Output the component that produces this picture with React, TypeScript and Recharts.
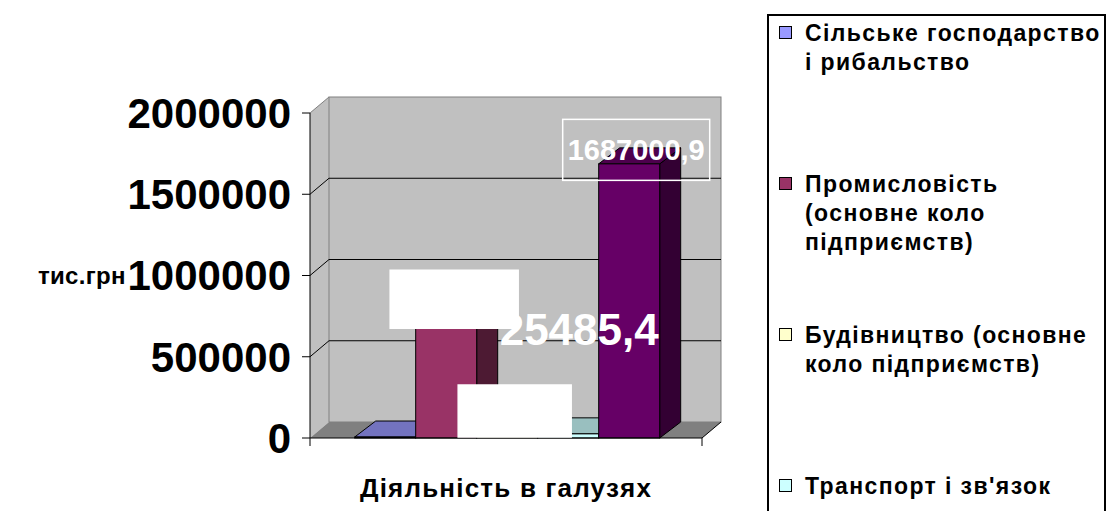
import React from "react";
import { Bar, BarChart, CartesianGrid, LabelList, Legend, ReferenceArea, XAxis, YAxis } from "recharts";

const categories = ["Діяльність в галузях"];
const seriesNames = [
  "Сільське господарство і рибальство",
  "Промисловість (основне коло підприємств)",
  "Будівництво (основне коло підприємств)",
  "Транспорт і зв'язок",
  "Торгівля",
];
const agriculture = [6000];
const industry = [700000];
const construction = [120000];
const transport = [25485.4];
const trade = [1687000.9];
const yTicks = [0, 500000, 1000000, 1500000, 2000000];
const legendLines = [
  ["Сільське господарство", "і рибальство"],
  ["Промисловість", "(основне коло", "підприємств)"],
  ["Будівництво (основне", "коло підприємств)"],
  ["Транспорт і зв'язок"],
];

const colors = ["#9999FF", "#993366", "#FFFFCC", "#CCFFFF", "#660066"];
const keys = ["s0", "s1", "s2", "s3", "s4"];
const seriesValues = [agriculture, industry, construction, transport, trade];

const data = categories.map((cat, i) => {
  const row: Record<string, string | number> = { cat };
  keys.forEach((k, j) => (row[k] = seriesValues[j][i]));
  return row;
});

const FONT = '"Liberation Sans", Arial, sans-serif';
const WALL_DX = 19;
const WALL_DY = -16;
const BAR_DX = 21;
const BAR_DY = -16;

function shade(hex: string, f: number) {
  const n = parseInt(hex.slice(1), 16);
  const r = Math.round(((n >> 16) & 255) * f);
  const g = Math.round(((n >> 8) & 255) * f);
  const b = Math.round((n & 255) * f);
  return `rgb(${r},${g},${b})`;
}

function Box3D(props: any) {
  const x = Number(props.x);
  const y = Number(props.y);
  const w = Number(props.width);
  const h = Number(props.height);
  const fill = props.fill as string;
  if (!isFinite(x) || !isFinite(y)) return null;
  const top = `${x},${y} ${x + BAR_DX},${y + BAR_DY} ${x + w + BAR_DX},${y + BAR_DY} ${x + w},${y}`;
  const side = `${x + w},${y} ${x + w + BAR_DX},${y + BAR_DY} ${x + w + BAR_DX},${y + h + BAR_DY} ${x + w},${y + h}`;
  return (
    <g>
      <polygon points={side} fill={shade(fill, 0.5)} stroke="#000" strokeWidth={1} />
      <polygon points={top} fill={shade(fill, 0.75)} stroke="#000" strokeWidth={1} />
      <rect x={x} y={y} width={w} height={Math.max(h, 0)} fill={fill} stroke="#000" strokeWidth={1} />
    </g>
  );
}

function Walls(props: any) {
  const { x, y, width: w, height: h } = props;
  const b = y + h;
  return (
    <g>
      <polygon
        points={`${x},${b} ${x},${y} ${x + WALL_DX},${y + WALL_DY} ${x + WALL_DX},${b + WALL_DY}`}
        fill="#c0c0c0"
      />
      <line x1={x} y1={y} x2={x + WALL_DX} y2={y + WALL_DY} stroke="#808080" />
      <rect x={x + WALL_DX} y={y + WALL_DY} width={w} height={h} fill="#c0c0c0" stroke="#808080" />
      <polygon
        points={`${x},${b} ${x + w},${b} ${x + w + WALL_DX},${b + WALL_DY} ${x + WALL_DX},${b + WALL_DY}`}
        fill="#808080"
      />
      <line x1={x + w} y1={b} x2={x + w + WALL_DX} y2={b + WALL_DY} stroke="#000" />
      <line x1={x} y1={b} x2={x} y2={b + 8} stroke="#000" />
      <line x1={x + w} y1={b} x2={x + w} y2={b + 8} stroke="#000" />
    </g>
  );
}

function GridLine(props: any) {
  const { x1, y1, x2, y2 } = props;
  const top = Number(props.y);
  const bottom = top + Number(props.height);
  if (Math.abs(y1 - top) < 1 || Math.abs(y1 - bottom) < 1) return <g />;
  return (
    <path
      d={`M${x1},${y1} L${x1 + WALL_DX},${y1 + WALL_DY} L${x2 + WALL_DX},${y2 + WALL_DY}`}
      stroke="#000"
      strokeWidth={1}
      fill="none"
    />
  );
}

// label looks per series (index matches series)
const labelStyles: any[] = [
  null,
  { kind: "fill", w: 128, h: 58, dx: 8, dy: -25, fontSize: 28 },
  { kind: "fill", w: 113, h: 52, dx: 7.5, dy: -7.5, fontSize: 28 },
  { kind: "text", dx: 11, dy: -105, fontSize: 44 },
  { kind: "stroke", w: 147, h: 61, dx: 7, dy: -14, fontSize: 29 },
];

function formatValue(v: number) {
  return String(v).replace(".", ",");
}

const makeLabel = (i: number) => (props: any) => {
  const st = labelStyles[i];
  if (!st) return null;
  const cx = Number(props.x) + Number(props.width) / 2 + st.dx;
  const cy = Number(props.y) + st.dy;
  return (
    <g>
      {st.kind !== "text" && (
        <rect
          x={cx - st.w / 2}
          y={cy - st.h / 2}
          width={st.w}
          height={st.h}
          fill={st.kind === "fill" ? "#fff" : "none"}
          stroke="#fff"
          strokeWidth={1.5}
        />
      )}
      <text
        x={cx}
        y={cy + st.fontSize * 0.36}
        textAnchor="middle"
        fill="#fff"
        fontFamily={FONT}
        fontWeight="bold"
        fontSize={st.fontSize}
      >
        {formatValue(Number(props.value))}
      </text>
    </g>
  );
};

function LegendBox() {
  return (
    <div
      style={{
        position: "relative",
        width: 339,
        height: 520,
        border: "2px solid #000",
        borderBottom: "none",
        boxSizing: "border-box",
        background: "#fff",
        fontFamily: FONT,
        fontWeight: "bold",
        fontSize: 23,
        lineHeight: "29px",
        letterSpacing: 1.4,
        color: "#000",
      }}
    >
      {legendLines.map((lines, i) => (
        <div key={i} style={{ position: "absolute", left: 0, top: 3 + i * 151 }}>
          <div
            style={{
              position: "absolute",
              left: 10,
              top: 7,
              width: 11,
              height: 11,
              background: colors[i],
              border: "1px solid #000",
            }}
          />
          <div style={{ position: "absolute", left: 36, top: 0, whiteSpace: "nowrap" }}>
            {lines.map((l, j) => (
              <div key={j}>{l}</div>
            ))}
          </div>
        </div>
      ))}
    </div>
  );
}

export default function App() {
  return (
    <div
      style={{
        position: "absolute",
        left: 0,
        top: 0,
        width: 1110,
        height: 511,
        overflow: "hidden",
        background: "#fff",
        fontFamily: FONT,
      }}
    >
      <BarChart
        width={1110}
        height={511}
        data={data}
        margin={{ top: 113, right: 408, bottom: 0, left: 0 }}
        barGap={0}
        barCategoryGap="11.4%"
      >
        <ReferenceArea y1={0} y2={2000000} shape={<Walls />} ifOverflow="visible" zIndex={-200} />
        <CartesianGrid vertical={false} horizontal={(p: any) => <GridLine key={p.key} {...p} />} />
        <XAxis
          dataKey="cat"
          height={73}
          tick={false}
          tickLine={false}
          axisLine={{ stroke: "#000" }}
          label={{
            value: categories[0],
            position: "insideBottom",
            offset: 14,
            fill: "#000",
            fontSize: 26,
            fontWeight: "bold",
            fontFamily: FONT,
            letterSpacing: 1.2,
          }}
        />
        <YAxis
          width={310}
          domain={[0, 2000000]}
          ticks={yTicks}
          interval={0}
          tickSize={8}
          tickMargin={11}
          tickLine={{ stroke: "#000" }}
          axisLine={{ stroke: "#000" }}
          tick={{ fontSize: 42, fontWeight: "bold", fill: "#000", fontFamily: FONT }}
          label={{
            value: "тис.грн",
            position: "insideLeft",
            offset: 38,
            fill: "#000",
            fontSize: 24,
            fontWeight: "bold",
            fontFamily: FONT,
            letterSpacing: 0.3,
          }}
        />
        <Legend
          layout="vertical"
          align="center"
          verticalAlign="middle"
          content={() => <LegendBox />}
          wrapperStyle={{ left: 767, top: 14, width: 339, height: 520 }}
        />
        {keys.map((k, i) => (
          <Bar
            key={k}
            dataKey={k}
            name={seriesNames[i]}
            fill={colors[i]}
            stroke="#000"
            isAnimationActive={false}
            legendType={i < legendLines.length ? "square" : "none"}
            shape={(p: any) => <Box3D {...p} fill={colors[i]} />}
          >
            <LabelList dataKey={k} content={makeLabel(i)} />
          </Bar>
        ))}
      </BarChart>
    </div>
  );
}
